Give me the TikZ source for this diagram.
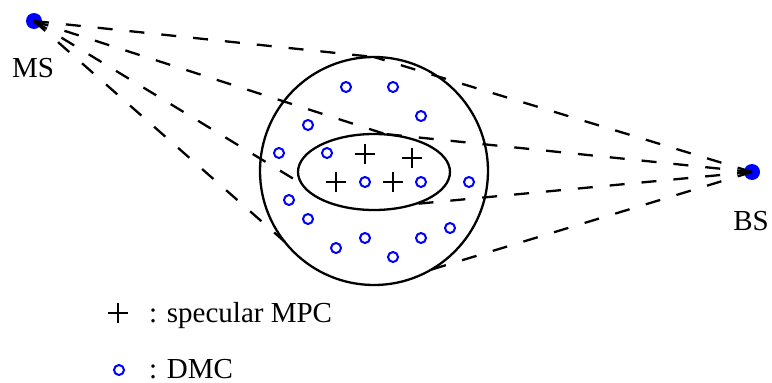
\documentclass[tikz,border=0pt]{standalone}
\usepackage{fontspec}
\setmainfont{Liberation Serif}
\begin{document}
\begin{tikzpicture}[x=1pt,y=-1pt,
  dashln/.style={line width=2.3pt, dash pattern=on 15pt off 17pt},
  outline/.style={line width=2.3pt},
  station/.style={circle, fill=blue, minimum size=16pt, inner sep=0pt},
  dmc/.style={circle, draw=blue, line width=2pt, minimum size=10pt, inner sep=0pt},
  lbl/.style={inner sep=0pt, anchor=base, font=\fontsize{29}{34}\selectfont},
  mpcmark/.pic={\draw[line width=2.3pt] (-10,0) -- (10,0) (0,-10) -- (0,10);}]
\useasboundingbox (0,0) rectangle (772,383);

% stations
\node[station] (ms) at (34,21) {};
\node[station] (bs) at (752,172) {};
\node[lbl] (mslbl) at (33,77) {MS};
\node[lbl] (bslbl) at (751,230) {BS};

% scattering regions
\draw[outline] (374,171) circle[radius=114];
\draw[outline] (374,172) ellipse[x radius=76, y radius=38];

% reflection points
\coordinate (pD) at (374,57);
\coordinate (pA) at (385,134);
\coordinate (pB1) at (302,184);
\coordinate (pB2) at (415,204);
\coordinate (pC1) at (285,242);
\coordinate (pC2) at (430,270);

% paths
\draw[dashln] (ms.center) -- (pD);
\draw[dashln] (ms.center) -- (pA);
\draw[dashln] (ms.center) -- (pB1);
\draw[dashln] (ms.center) -- (pC1);
\draw[dashln] (bs.center) -- (pD);
\draw[dashln] (bs.center) -- (pA);
\draw[dashln] (bs.center) -- (pB2);
\draw[dashln] (bs.center) -- (pC2);

% specular MPCs
\pic at (365,154) {mpcmark};
\pic at (412,158) {mpcmark};
\pic at (336,182) {mpcmark};
\pic at (393,182) {mpcmark};

% DMCs
\foreach \n/\p in {d1/{(346,87)}, d2/{(393,87)}, d3/{(421,116)}, d4/{(308,125)},
  d5/{(279,153)}, d6/{(327,153)}, d7/{(365,182)}, d8/{(421,182)}, d9/{(469,182)},
  d10/{(289,200)}, d11/{(308,219)}, d12/{(450,228)}, d13/{(365,238)},
  d14/{(421,238)}, d15/{(336,248)}, d16/{(393,257)}}
  \node[dmc] (\n) at \p {};

% legend
\pic at (118,313) {mpcmark};
\node[lbl, anchor=base west] (leg1) at (149,322) {: specular MPC};
\node[dmc] (legdmc) at (119,370) {};
\node[lbl, anchor=base west] (leg2) at (149,378) {: DMC};
\end{tikzpicture}
\end{document}
